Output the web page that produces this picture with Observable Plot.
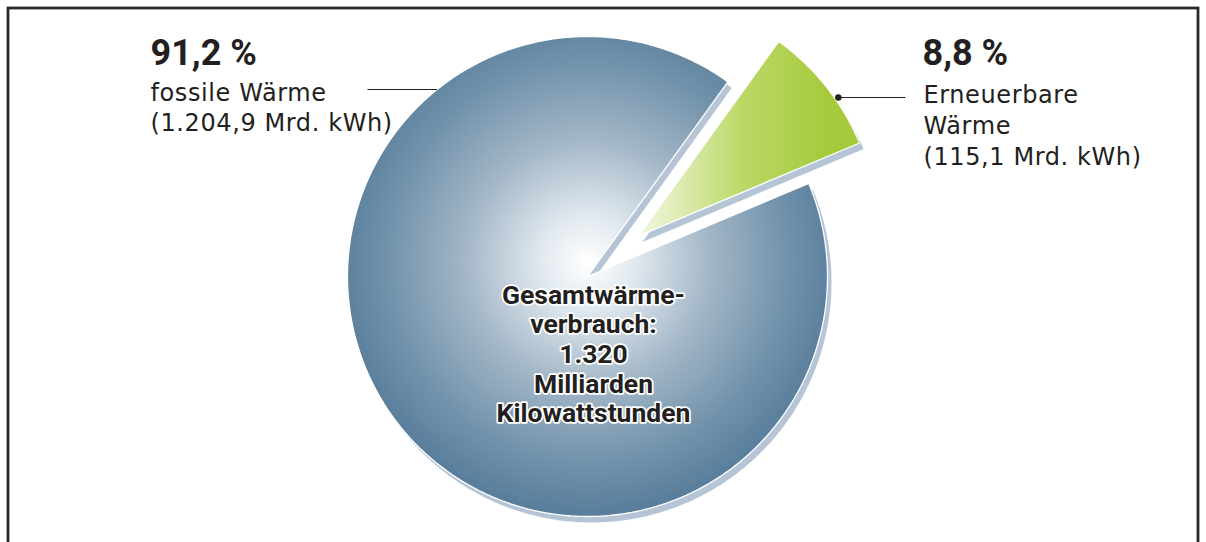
<!DOCTYPE html>
<html><head><meta charset="utf-8">
<script src="https://cdn.jsdelivr.net/npm/d3@7"></script>
<script src="https://cdn.jsdelivr.net/npm/@observablehq/plot@0.6"></script>
<style>html,body{margin:0;padding:0;background:#fff}</style>
</head><body><div id="chart"></div>
<script>
// ---- data ----
const categories = ["Erneuerbare Wärme", "fossile Wärme"];
const values = [115.1, 1204.9]; // Mrd. kWh
const shareLabels = ["8,8 %", "91,2 %"];
const nameLabels = ["Erneuerbare\nWärme\n(115,1 Mrd. kWh)", "fossile Wärme\n(1.204,9 Mrd. kWh)"];
const totalLabel = ["Gesamtwärme-\nverbrauch:\n1.320\nMilliarden\nKilowattstunden"];

// ---- layout ----
const W = 1206, H = 542;
const cx = 587, cy = 276, R = 240;
const startDeg = 35.8, explode = 65;
const ink = "#231f20";

const rad = Math.PI / 180;
const pie = d3.pie().sort(null).startAngle(startDeg * rad).endAngle(startDeg * rad + 2 * Math.PI);
const arcs = pie(values);

const slices = arcs.map((a, i) => {
  const mid = (a.startAngle + a.endAngle) / 2;
  const off = i === 0 ? explode : 0;
  const ox = cx + off * Math.sin(mid), oy = cy - off * Math.cos(mid);
  const n = Math.max(16, Math.ceil((a.endAngle - a.startAngle) / rad) * 2);
  const pts = [{x: ox, y: oy}];
  for (let k = 0; k <= n; k++) {
    const t = a.startAngle + (a.endAngle - a.startAngle) * k / n;
    pts.push({x: ox + R * Math.sin(t), y: oy - R * Math.cos(t)});
  }
  return {pts, ox, oy, mid};
});

// leader lines: horizontal, ending on the slice's arc
function arcX(s, y, side) { return s.ox + side * Math.sqrt(R * R - (s.oy - y) ** 2); }
const leaderFossilY = 89, leaderGreenY = 97;
const leaders = [
  {x1: 367, x2: arcX(slices[1], leaderFossilY, -1), y: leaderFossilY},
  {x1: 905, x2: arcX(slices[0], leaderGreenY, 1) + 4, y: leaderGreenY}
];

const shadow = "#b5c5d6";
const plot = Plot.plot({
  width: W, height: H, margin: 0,
  x: {domain: [0, W], range: [0, W], axis: null},
  y: {domain: [0, H], range: [0, H], axis: null},
  style: {background: "white", overflow: "hidden"},
  marks: [
    // fossil
    Plot.line(slices[1].pts, {x: "x", y: "y", curve: "linear-closed", fill: shadow, stroke: "none", dx: 4, dy: 6}),
    Plot.line(slices[1].pts, {x: "x", y: "y", curve: "linear-closed", fill: "url(#gradFossil)", stroke: "white", strokeWidth: 1.3}),
    // renewable
    Plot.line(slices[0].pts, {x: "x", y: "y", curve: "linear-closed", fill: shadow, stroke: "none", dx: 4, dy: 6}),
    Plot.line(slices[0].pts, {x: "x", y: "y", curve: "linear-closed", fill: "url(#gradGreen)", stroke: "white", strokeWidth: 1.3}),
    // leaders
    Plot.link(leaders, {x1: "x1", x2: "x2", y1: "y", y2: "y", stroke: ink, strokeWidth: 1.2}),
    Plot.dot([leaders[1]], {x: "x2", y: "y", r: 3.2, fill: ink}),
    // labels
    Plot.text([shareLabels[1]], {x: 150, y: 39, text: d => d, textAnchor: "start", lineAnchor: "top", fontFamily: "Roboto", fontWeight: "bold", fontSize: 36, fill: ink}),
    Plot.text([shareLabels[0]], {x: 922, y: 39, text: d => d, textAnchor: "start", lineAnchor: "top", fontFamily: "Roboto", fontWeight: "bold", fontSize: 36, fill: ink}),
    Plot.text([nameLabels[1]], {x: 150, y: 79, text: d => d, textAnchor: "start", lineAnchor: "top", lineHeight: 1.25, fontFamily: "DejaVu Sans", fontSize: 24, fill: ink, className: "reg"}),
    Plot.text([nameLabels[0]], {x: 923, y: 80, text: d => d, textAnchor: "start", lineAnchor: "top", lineHeight: 1.3, fontFamily: "DejaVu Sans", fontSize: 24, fill: ink, className: "reg"}),
    Plot.text(totalLabel, {x: cx + 6, y: 282, text: d => d, textAnchor: "middle", lineAnchor: "top", lineHeight: 1.12, fontFamily: "Roboto", fontWeight: "bold", fontSize: 26.5, fill: ink, stroke: "white", strokeWidth: 3.5}),
    // frame (open at the bottom)
    Plot.frame({stroke: "#2a2a2a", strokeWidth: 2.8, insetLeft: 7.5, insetTop: 7.5, insetRight: 8.5, insetBottom: -10})
  ]
});

const ns = "http://www.w3.org/2000/svg";
const defs = document.createElementNS(ns, "defs");
defs.innerHTML = `
<radialGradient id="gradFossil" gradientUnits="userSpaceOnUse" cx="${cx}" cy="${cy - 14}" r="${R + 8}">
  <stop offset="0" stop-color="#ffffff"/>
  <stop offset="0.2" stop-color="#dfe7ee"/>
  <stop offset="0.5" stop-color="#a2b6c6"/>
  <stop offset="0.8" stop-color="#7393ac"/>
  <stop offset="1" stop-color="#5a7f9c"/>
</radialGradient>
<linearGradient id="gradGreen" gradientUnits="userSpaceOnUse" x1="${slices[0].ox}" y1="0" x2="${slices[0].ox + 190}" y2="0">
  <stop offset="0" stop-color="#f3f8e4"/>
  <stop offset="0.55" stop-color="#bcd866"/>
  <stop offset="1" stop-color="#a5ca3b"/>
</linearGradient>`;
const svg = plot.tagName.toLowerCase() === "svg" ? plot : plot.querySelector("svg");
svg.insertBefore(defs, svg.firstChild);
svg.querySelectorAll(".reg text, g.reg text").forEach(t => t.style.letterSpacing = "0.6px");
document.getElementById("chart").appendChild(plot);
</script>
</body></html>
